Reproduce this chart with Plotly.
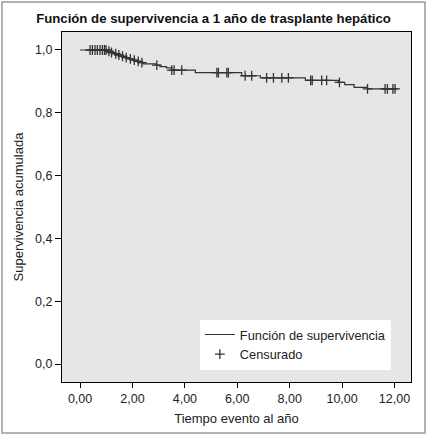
import numpy as np
import plotly.graph_objects as go

# Kaplan-Meier: tiempos de evento y supervivencia acumulada tras cada evento
event_time = [0.0, 1.05, 1.15, 1.3, 1.42, 1.55, 1.7, 1.85, 2.0, 2.15, 2.3, 2.42,
              2.9, 3.05, 3.3, 3.5, 4.4, 6.17, 6.88, 8.6, 9.86, 10.1, 10.46, 10.97]
survival = [1.0, 0.996, 0.992, 0.988, 0.984, 0.980, 0.976, 0.972, 0.968, 0.964, 0.960, 0.956,
            0.952, 0.947, 0.943, 0.936, 0.928, 0.918, 0.911, 0.903, 0.897, 0.890, 0.881, 0.876]
end_time = 12.05

# casos censurados
censor_time = [0.38, 0.47, 0.57, 0.66, 0.76, 0.85, 0.93, 0.99, 1.1, 1.2, 1.36, 1.48,
               1.62, 1.76, 1.92, 2.07, 2.22, 2.36, 2.93, 3.5, 3.59, 3.88, 5.22, 5.28,
               5.6, 5.66, 6.3, 6.55, 7.12, 7.38, 7.7, 7.95, 8.8, 8.86, 9.22, 9.41,
               9.9, 10.97, 11.64, 11.73, 11.94, 12.02]

step_x = event_time + [end_time]
step_y = survival + [survival[-1]]
idx = np.searchsorted(event_time, censor_time, side="right") - 1
censor_y = [survival[i] for i in idx]

col = "#333333"
fig = go.Figure()
fig.add_trace(go.Scatter(x=step_x, y=step_y, mode="lines", line_shape="hv",
                         line=dict(color=col, width=1.2), name="Función de supervivencia"))
fig.add_trace(go.Scatter(x=censor_time, y=censor_y, mode="markers", name="Censurado",
                         marker=dict(symbol="cross-thin", size=7,
                                     line=dict(color=col, width=1.3))))

fig.update_layout(
    width=427, height=437, separators=",.",
    font=dict(family="Arial, Liberation Sans", size=12.5, color="#222222"),
    paper_bgcolor="white", plot_bgcolor="#e6e6e6",
    margin=dict(l=62, r=16, t=32, b=55),
    title=dict(text="<b>Función de supervivencia a 1 año de trasplante hepático</b>",
               x=0.5, xanchor="center", y=0.958, yanchor="middle",
               font=dict(size=13.2, color="#111111")),
    legend=dict(x=0.395, y=0.178, xanchor="left", yanchor="top",
                bgcolor="white", font=dict(size=12.8), tracegroupgap=0,
                itemwidth=30),
    showlegend=True,
)
fig.update_xaxes(range=[-0.69, 12.63], tick0=0, dtick=2, tickformat=".2f",
                 ticks="outside", ticklen=5, tickcolor="black",
                 showline=True, linecolor="black", linewidth=1, mirror=True,
                 showgrid=False, zeroline=False,
                 title=dict(text="Tiempo evento al año", standoff=8, font=dict(size=13)))
fig.update_yaxes(range=[-0.0573, 1.0573], tick0=0, dtick=0.2, tickformat=".1f",
                 ticks="outside", ticklen=6, tickcolor="black",
                 showline=True, linecolor="black", linewidth=1, mirror=True,
                 showgrid=False, zeroline=False,
                 title=dict(text="Supervivencia acumulada", standoff=8, font=dict(size=13)))

# marco gris exterior
fig.add_shape(type="rect", xref="paper", yref="paper",
              x0=-0.172, x1=1.040, y0=-0.1457, y1=1.0857,
              line=dict(color="#999999", width=1.5))

fig.write_html("out.html", config={"displayModeBar": False},
               post_script="document.body.style.margin='0';")
